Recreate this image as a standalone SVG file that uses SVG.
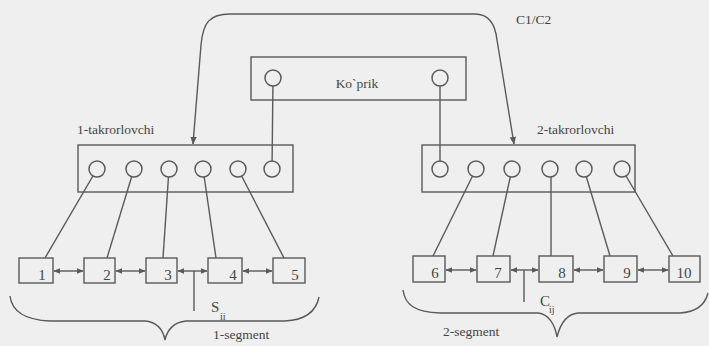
<svg xmlns="http://www.w3.org/2000/svg" width="709" height="346" viewBox="0 0 709 346">
<defs>
<style>
.ln{fill:none;stroke:#5a5a5a;stroke-width:1.4}
.bx{fill:none;stroke:#5a5a5a;stroke-width:1.4}
.cr{fill:#efefef;stroke:#5a5a5a;stroke-width:1.5}
text{font-family:"Liberation Serif","Times New Roman",serif;fill:#454545}
.tx{font-size:13.5px}
.num{font-size:15px}
.sub{font-size:10px}
</style>
<marker id="ah" viewBox="0 0 10 10" refX="9" refY="5" markerWidth="8" markerHeight="8" orient="auto-start-reverse" markerUnits="userSpaceOnUse">
<path d="M0,1 L10,5 L0,9 Z" fill="#5a5a5a"/>
</marker>
<marker id="sa" viewBox="0 0 10 10" refX="9" refY="5" markerWidth="7" markerHeight="7" orient="auto-start-reverse" markerUnits="userSpaceOnUse">
<path d="M0,1 L10,5 L0,9 Z" fill="#5a5a5a"/>
</marker>
</defs>
<rect x="0" y="0" width="709" height="346" fill="#efefef"/>

<g id="connectors">
<path class="ln" d="M193,144 L201,45 C203,22 210,14 230,14 L475,14 C488,14 495,22 497,40 L514,144" marker-start="url(#ah)" marker-end="url(#ah)"/>
<line class="ln" x1="273" y1="78" x2="272" y2="169"/>
<line class="ln" x1="440" y1="78" x2="440" y2="169"/>
<line class="ln" x1="97" y1="169" x2="45" y2="258"/>
<line class="ln" x1="134" y1="169" x2="107" y2="258"/>
<line class="ln" x1="169" y1="169" x2="163" y2="258"/>
<line class="ln" x1="203" y1="169" x2="216" y2="258"/>
<line class="ln" x1="238" y1="169" x2="284" y2="258"/>
<line class="ln" x1="476" y1="169" x2="433" y2="256"/>
<line class="ln" x1="512" y1="169" x2="493" y2="256"/>
<line class="ln" x1="551" y1="169" x2="551" y2="256"/>
<line class="ln" x1="584" y1="169" x2="610" y2="256"/>
<line class="ln" x1="622" y1="169" x2="673" y2="256"/>
<line class="ln" x1="54" y1="271" x2="83" y2="271" marker-start="url(#sa)" marker-end="url(#sa)"/>
<line class="ln" x1="116" y1="271" x2="145" y2="271" marker-start="url(#sa)" marker-end="url(#sa)"/>
<line class="ln" x1="178" y1="271" x2="207" y2="271" marker-start="url(#sa)" marker-end="url(#sa)"/>
<line class="ln" x1="243" y1="271" x2="272" y2="271" marker-start="url(#sa)" marker-end="url(#sa)"/>
<line class="ln" x1="446" y1="270" x2="476" y2="270" marker-start="url(#sa)" marker-end="url(#sa)"/>
<line class="ln" x1="511" y1="270" x2="538" y2="270" marker-start="url(#sa)" marker-end="url(#sa)"/>
<line class="ln" x1="574" y1="270" x2="603" y2="270" marker-start="url(#sa)" marker-end="url(#sa)"/>
<line class="ln" x1="638" y1="270" x2="668" y2="270" marker-start="url(#sa)" marker-end="url(#sa)"/>
<line class="ln" x1="194" y1="271" x2="194" y2="311"/>
<line class="ln" x1="524" y1="270" x2="524" y2="302"/>
<path class="ln" d="M10,296 C12,312 25,320 50,321 L145,321 C157,322 163,330 165,340 C167,330 174,322 186,321 L285,321 C305,320 316,312 319,297"/>
<path class="ln" d="M403,290 C405,305 415,312 440,313 L538,313 C549,314 555,325 557,337 C560,325 566,314 578,313 L680,313 C697,312 705,305 708,293"/>
</g>

<g id="koprik">
<rect class="bx" x="251" y="57" width="215" height="43"/>
<circle class="cr" cx="273" cy="78" r="8"/>
<circle class="cr" cx="440" cy="78" r="8"/>
<text class="tx" x="357" y="88" text-anchor="middle">Ko`prik</text>
</g>

<g id="c1c2">
<text class="tx" x="516" y="24">C1/C2</text>
</g>

<g id="takror1">
<text class="tx" x="77" y="134">1-takrorlovchi</text>
<rect class="bx" x="78" y="145" width="215" height="47"/>
<circle class="cr" cx="97" cy="169" r="8"/>
<circle class="cr" cx="134" cy="169" r="8"/>
<circle class="cr" cx="169" cy="169" r="8"/>
<circle class="cr" cx="203" cy="169" r="8"/>
<circle class="cr" cx="238" cy="169" r="8"/>
<circle class="cr" cx="272" cy="169" r="8"/>
</g>

<g id="takror2">
<text class="tx" x="537" y="134">2-takrorlovchi</text>
<rect class="bx" x="422" y="145" width="213" height="47"/>
<circle class="cr" cx="440" cy="169" r="8"/>
<circle class="cr" cx="476" cy="169" r="8"/>
<circle class="cr" cx="512" cy="169" r="8"/>
<circle class="cr" cx="550" cy="169" r="8"/>
<circle class="cr" cx="584" cy="169" r="8"/>
<circle class="cr" cx="622" cy="169" r="8"/>
</g>

<g id="n1"><rect class="bx" x="19" y="258" width="34" height="25"/><text class="num" x="42" y="280" text-anchor="middle">1</text></g>
<g id="n2"><rect class="bx" x="84" y="258" width="31" height="25"/><text class="num" x="107" y="280" text-anchor="middle">2</text></g>
<g id="n3"><rect class="bx" x="146" y="258" width="31" height="25"/><text class="num" x="168" y="280" text-anchor="middle">3</text></g>
<g id="n4"><rect class="bx" x="208" y="258" width="34" height="25"/><text class="num" x="233" y="280" text-anchor="middle">4</text></g>
<g id="n5"><rect class="bx" x="273" y="258" width="32" height="25"/><text class="num" x="295" y="280" text-anchor="middle">5</text></g>
<g id="n6"><rect class="bx" x="413" y="256" width="32" height="26"/><text class="num" x="435" y="278" text-anchor="middle">6</text></g>
<g id="n7"><rect class="bx" x="477" y="256" width="33" height="26"/><text class="num" x="498" y="278" text-anchor="middle">7</text></g>
<g id="n8"><rect class="bx" x="539" y="256" width="34" height="26"/><text class="num" x="562" y="278" text-anchor="middle">8</text></g>
<g id="n9"><rect class="bx" x="604" y="256" width="33" height="26"/><text class="num" x="627" y="278" text-anchor="middle">9</text></g>
<g id="n10"><rect class="bx" x="669" y="256" width="31" height="26"/><text class="num" x="684" y="278" text-anchor="middle">10</text></g>

<g id="labels">
<text class="num" x="211" y="312">S</text><text class="sub" x="220" y="320">ii</text>
<text class="num" x="540" y="306">C</text><text class="sub" x="549" y="313">ij</text>
<text class="tx" x="213" y="339">1-segment</text>
<text class="tx" x="443" y="336">2-segment</text>
</g>
</svg>
